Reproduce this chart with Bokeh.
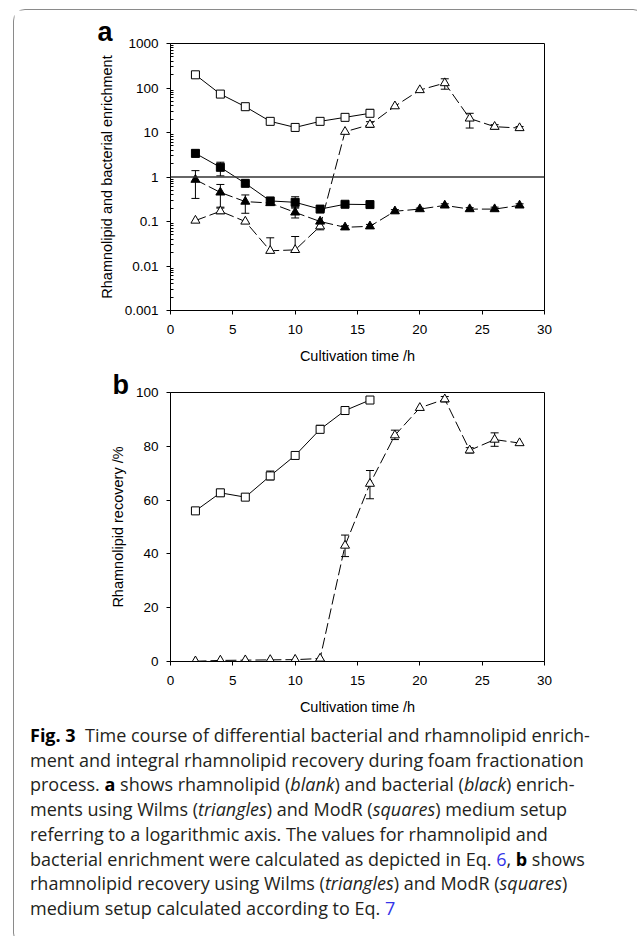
from bokeh.plotting import figure
from bokeh.models import (ColumnDataSource, Whisker, TeeHead, Span, Title, FixedTicker,
                          CustomJSTickFormatter, Div, Range1d)
from bokeh.layouts import column
from bokeh.embed import file_html
from bokeh.resources import INLINE

# ---------------- data ----------------
t_modr = [2, 4, 6, 8, 10, 12, 14, 16]
t_wilms = [2, 4, 6, 8, 10, 12, 14, 16, 18, 20, 22, 24, 26, 28]

# panel a: enrichment (log axis)
a_rham_modr = [198, 73, 38, 17.8, 13, 17.8, 21.9, 27]
a_bact_modr = [3.4, 1.65, 0.72, 0.29, 0.27, 0.19, 0.244, 0.24]
a_rham_wilms = [0.105, 0.17, 0.10, 0.022, 0.023, 0.078, 10.4, 15, 39, 90, 129, 20.7, 13.5, 12.6]
a_bact_wilms = [0.87, 0.45, 0.28, 0.26, 0.16, 0.10, 0.074, 0.078, 0.17, 0.19, 0.23, 0.19, 0.19, 0.23]

a_rham_modr_err_t = [2, 14, 16]
a_rham_modr_err_lo = [185, 19.5, 23]
a_rham_modr_err_hi = [212, 24.5, 33]

a_bact_modr_err_t = [2, 4, 6, 8, 10, 14, 16]
a_bact_modr_err_lo = [2.8, 1.06, 0.66, 0.27, 0.20, 0.22, 0.22]
a_bact_modr_err_hi = [4.0, 2.15, 0.78, 0.32, 0.36, 0.27, 0.26]

a_rham_wilms_err_t = [4, 8, 10, 12, 16, 22, 24, 26, 28]
a_rham_wilms_err_lo = [0.15, 0.02, 0.021, 0.065, 13, 94, 12.6, 12, 11.5]
a_rham_wilms_err_hi = [0.21, 0.043, 0.046, 0.09, 17.5, 161, 27, 15, 13.6]

a_bact_wilms_err_t = [2, 4, 6, 10, 14, 16, 18, 20, 22, 24, 26, 28]
a_bact_wilms_err_lo = [0.33, 0.2, 0.153, 0.12, 0.068, 0.07, 0.155, 0.18, 0.21, 0.175, 0.175, 0.21]
a_bact_wilms_err_hi = [1.39, 0.68, 0.395, 0.21, 0.08, 0.086, 0.185, 0.2, 0.25, 0.205, 0.21, 0.25]

# panel b: recovery (%)
b_modr = [56.0, 62.7, 61.1, 69.0, 76.6, 86.3, 93.3, 97.2]
b_wilms = [0.1, 0.4, 0.5, 0.6, 0.7, 1.1, 43.1, 66.1, 84.1, 94.3, 97.5, 78.5, 82.5, 81.2]

b_modr_err_t = [4, 8, 12, 14, 16]
b_modr_err_lo = [61.5, 67.5, 85.5, 92.5, 96.5]
b_modr_err_hi = [64.0, 70.8, 87.8, 94.0, 97.8]

b_wilms_err_t = [14, 16, 18, 22, 24, 26]
b_wilms_err_lo = [39, 60.5, 82.5, 96.5, 77.5, 80]
b_wilms_err_hi = [47, 71, 86, 98.5, 79.5, 85]

x_ticks = [0, 5, 10, 15, 20, 25, 30]
a_y_ticks = [0.001, 0.01, 0.1, 1, 10, 100, 1000]
b_y_ticks = [0, 20, 40, 60, 80, 100]
x_title = "Cultivation time /h"
a_y_title = "Rhamnolipid and bacterial enrichment"
b_y_title = "Rhamnolipid recovery /%"

FONT = "Liberation Sans"
DASH = "11 4"


def style(p):
    p.grid.visible = False
    p.outline_line_color = "black"
    p.outline_line_width = 1
    p.background_fill_color = "white"
    p.border_fill_color = "white"
    for ax in (p.xaxis[0], p.yaxis[0]):
        ax.axis_line_color = "black"
        ax.major_tick_line_color = "black"
        ax.major_tick_out = 4
        ax.major_tick_in = 0
        ax.major_label_text_font = FONT
        ax.major_label_text_font_size = "13.5px"
        ax.major_label_text_color = "black"
        ax.axis_label_text_font = FONT
        ax.axis_label_text_font_size = "14.5px"
        ax.axis_label_text_font_style = "normal"
        ax.axis_label_text_color = "black"
    p.xaxis.ticker = FixedTicker(ticks=x_ticks)
    p.xaxis.minor_tick_line_color = None
    p.xaxis.axis_label = x_title
    p.xaxis.major_label_standoff = 10
    p.xaxis.axis_label_standoff = 11
    p.yaxis.major_label_standoff = 8
    p.yaxis.axis_label_standoff = 7


def whiskers(p, t, lo, hi):
    src = ColumnDataSource(dict(t=t, lo=lo, hi=hi))
    w = Whisker(base="t", lower="lo", upper="hi", source=src, line_color="black", line_width=1,
                upper_head=TeeHead(size=8, line_color="black", line_width=1),
                lower_head=TeeHead(size=8, line_color="black", line_width=1))
    p.add_layout(w)


def panel_letter(p, letter, offset, standoff):
    p.add_layout(Title(text=letter, align="left", offset=offset, standoff=standoff,
                       text_font=FONT, text_font_style="bold", text_font_size="27px",
                       text_color="black"), "above")


# ---------------- panel a ----------------
pa = figure(width=620, height=357, x_range=Range1d(0, 30), y_range=Range1d(0.001, 1000),
            y_axis_type="log", output_backend="svg", toolbar_location=None,
            min_border_left=156, min_border_right=90, min_border_top=33, min_border_bottom=57)
style(pa)
minor = [m * d for d in [0.001, 0.01, 0.1, 1, 10, 100] for m in range(2, 10)]
pa.yaxis.ticker = FixedTicker(ticks=a_y_ticks, minor_ticks=minor)
pa.yaxis.formatter = CustomJSTickFormatter(code="return String(tick);")
pa.yaxis.minor_tick_in = 3
pa.yaxis.minor_tick_out = 0
pa.yaxis.minor_tick_line_color = "black"
pa.yaxis.axis_label = a_y_title

pa.add_layout(Span(location=1, dimension="width", line_color="#333333", line_width=1.5))

whiskers(pa, a_rham_modr_err_t, a_rham_modr_err_lo, a_rham_modr_err_hi)
whiskers(pa, a_bact_modr_err_t, a_bact_modr_err_lo, a_bact_modr_err_hi)
whiskers(pa, a_rham_wilms_err_t, a_rham_wilms_err_lo, a_rham_wilms_err_hi)
whiskers(pa, a_bact_wilms_err_t, a_bact_wilms_err_lo, a_bact_wilms_err_hi)

pa.line(t_modr, a_rham_modr, line_color="black", line_width=1)
pa.line(t_modr, a_bact_modr, line_color="black", line_width=1)
pa.line(t_wilms, a_rham_wilms, line_color="black", line_width=1, line_dash=DASH)
pa.line(t_wilms, a_bact_wilms, line_color="black", line_width=1, line_dash=DASH)

pa.scatter(t_modr, a_rham_modr, marker="square", size=8, fill_color="white", line_color="black")
pa.scatter(t_modr, a_bact_modr, marker="square", size=8, fill_color="black", line_color="black")
pa.scatter(t_wilms, a_rham_wilms, marker="triangle", size=9, fill_color="white", line_color="black")
pa.scatter(t_wilms, a_bact_wilms, marker="triangle", size=9, fill_color="black", line_color="black")

panel_letter(pa, "a", -73, -7)

# ---------------- panel b ----------------
pb = figure(width=620, height=351, x_range=Range1d(0, 30), y_range=Range1d(0, 100),
            output_backend="svg", toolbar_location=None,
            min_border_left=156, min_border_right=90, min_border_top=25, min_border_bottom=57)
style(pb)
pb.yaxis.ticker = FixedTicker(ticks=b_y_ticks)
pb.yaxis.minor_tick_line_color = None
pb.yaxis.axis_label = b_y_title

whiskers(pb, b_modr_err_t, b_modr_err_lo, b_modr_err_hi)
whiskers(pb, b_wilms_err_t, b_wilms_err_lo, b_wilms_err_hi)

pb.line(t_modr, b_modr, line_color="black", line_width=1)
pb.line(t_wilms, b_wilms, line_color="black", line_width=1, line_dash=DASH)
pb.scatter(t_modr, b_modr, marker="square", size=8, fill_color="white", line_color="black")
pb.scatter(t_wilms, b_wilms, marker="triangle", size=9, fill_color="white", line_color="black")

panel_letter(pb, "b", -58, -14)

# ---------------- caption ----------------
blue = '<span style="color:#3434e8">'
caption_html = (
    '<div style="font-family:\'Open Sans\';font-size:18px;line-height:24.7px;color:#231f20;'
    'white-space:nowrap;padding:0 0 0 11px">'
    '<b style="color:#000">Fig.&nbsp;3</b>&nbsp; Time course of differential bacterial and rhamnolipid enrich-<br>'
    'ment and integral rhamnolipid recovery during foam fractionation<br>'
    'process. <b style="color:#000">a</b> shows rhamnolipid (<i>blank</i>) and bacterial (<i>black</i>) enrich-<br>'
    'ments using Wilms (<i>triangles</i>) and ModR (<i>squares</i>) medium setup<br>'
    'referring to a logarithmic axis. The values for rhamnolipid and<br>'
    'bacterial enrichment were calculated as depicted in Eq. ' + blue + '6</span>, '
    '<b style="color:#000">b</b> shows<br>'
    'rhamnolipid recovery using Wilms (<i>triangles</i>) and ModR (<i>squares</i>)<br>'
    'medium setup calculated according to Eq. ' + blue + '7</span>'
    '</div>'
)
cap = Div(text=caption_html, width=620, height=216)

layout = column(pa, pb, cap, margin=(9, 0, 0, 13),
                styles={"border": "1.5px solid #8a8a8a", "border-radius": "12px"})

open("out.html", "w").write(file_html(layout, INLINE))
